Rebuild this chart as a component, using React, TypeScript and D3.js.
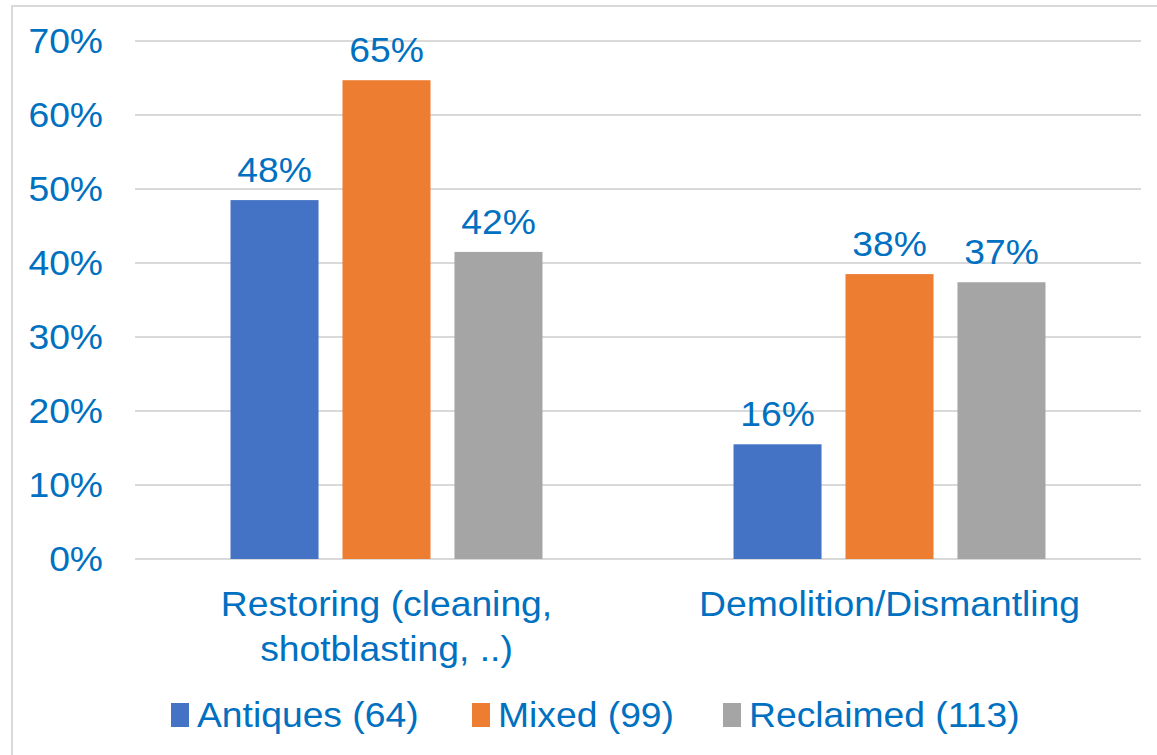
import React from "react";
import * as d3 from "d3";

const categories = ["Restoring (cleaning,|shotblasting, ..)", "Demolition/Dismantling"];
const seriesNames = ["Antiques (64)", "Mixed (99)", "Reclaimed (113)"];
const seriesColors = ["#4472C4", "#ED7D31", "#A5A5A5"];
const antiques = [0.485, 0.155];
const mixed = [0.647, 0.385];
const reclaimed = [0.415, 0.374];
const labelsAntiques = ["48%", "16%"];
const labelsMixed = ["65%", "38%"];
const labelsReclaimed = ["42%", "37%"];
const yTicks = [0, 0.1, 0.2, 0.3, 0.4, 0.5, 0.6, 0.7];

const W = 1157;
const H = 755;
const TXT = "#0070C0";
const FONT = "'Liberation Sans', Arial, sans-serif";
const FS = 35;
const SX = 1.065;

function T({ x, y, anchor, children }: { x: number; y: number; anchor: string; children: React.ReactNode }) {
  return (
    <text
      transform={`translate(${x},${y}) scale(${SX},1)`}
      textAnchor={anchor}
      fontFamily={FONT}
      fontSize={FS}
      fill={TXT}
    >
      {children}
    </text>
  );
}

export default function App() {
  const values = [antiques, mixed, reclaimed];
  const labels = [labelsAntiques, labelsMixed, labelsReclaimed];
  const y = d3.scaleLinear().domain([0, 0.7]).range([559, 41]);
  const x0 = d3.scaleBand<string>().domain(categories).range([135, 1141]);
  const x1 = d3
    .scaleBand<string>()
    .domain(seriesNames)
    .range([0, x0.bandwidth()])
    .paddingInner(0.214)
    .paddingOuter(0.853);

  const legendX = [171, 472, 723];

  return (
    <svg width={W} height={H} style={{ position: "absolute", left: 0, top: 0, background: "#fff" }}>
      <rect x={0} y={0} width={W} height={H} fill="#fff" />
      <rect x={12} y={6} width={W + 20} height={H + 20} fill="none" stroke="#d9d9d9" strokeWidth={2} />
      {yTicks.map((t) => (
        <g key={t}>
          <line x1={135} x2={1141} y1={y(t)} y2={y(t)} stroke="#d9d9d9" strokeWidth={2} />
          <T x={103} y={y(t) + 12} anchor="end">
            {d3.format(".0%")(t)}
          </T>
        </g>
      ))}
      {categories.map((c, ci) => (
        <g key={c}>
          {seriesNames.map((s, si) => {
            const bx = (x0(c) as number) + (x1(s) as number);
            const v = values[si][ci];
            return (
              <g key={s}>
                <rect x={bx} y={y(v)} width={x1.bandwidth()} height={y(0) - y(v)} fill={seriesColors[si]} />
                <T x={bx + x1.bandwidth() / 2} y={y(v) - 18} anchor="middle">
                  {labels[si][ci]}
                </T>
              </g>
            );
          })}
          {c.split("|").map((line, li) => (
            <T key={li} x={(x0(c) as number) + x0.bandwidth() / 2} y={616 + li * 45} anchor="middle">
              {line}
            </T>
          ))}
        </g>
      ))}
      {seriesNames.map((s, si) => (
        <g key={s}>
          <rect x={legendX[si]} y={703} width={18} height={24} fill={seriesColors[si]} />
          <T x={legendX[si] + 26} y={727} anchor="start">
            {s}
          </T>
        </g>
      ))}
    </svg>
  );
}
